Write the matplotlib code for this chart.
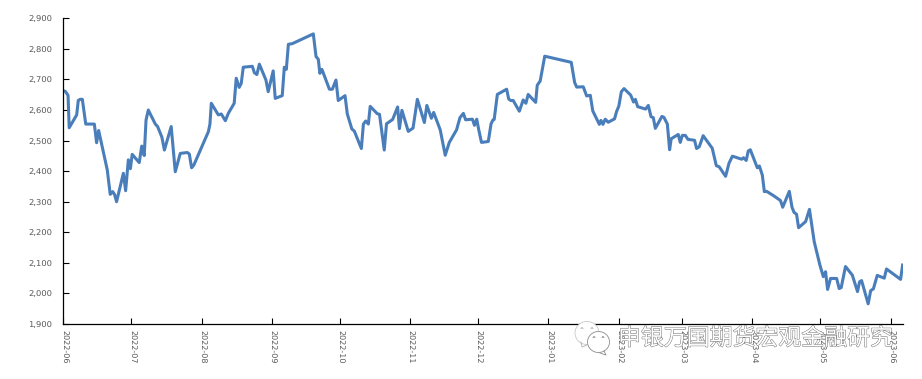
import pandas as pd
import matplotlib
matplotlib.use("Agg")
import matplotlib.pyplot as plt
import matplotlib.patheffects as pe
from matplotlib.patches import Ellipse

plt.rcParams["text.hinting"] = "no_hinting"

# days since 2022-06-01
days = [
    0, 0.9, 2.1, 2.6, 5.9, 6.6, 7.4, 8.4, 9.9, 13.7, 14.7, 15.6, 19.4, 20.7, 21.8, 22.6, 23.5, 26.5, 27.5, 28.7,
    29.6, 30.4, 33.5, 34.6, 35.7, 36.5, 37.5, 40.6, 41.6, 43.5, 44.6, 47.6, 49.4, 51.6, 54.7, 55.6, 56.6, 57.6, 64, 64.7,
    65.3, 68.4, 69.7, 71.5, 72.8, 75.4, 76.3, 77.6, 78.5, 79.4, 83.4, 84.3, 85.4, 86.5, 89.4, 90.4, 92.6, 93.5, 96.6, 97.5,
    98.4, 99.3, 101, 110.3, 111.5, 112.5, 113.2, 114.1, 117.4, 118.7, 120.3, 121.3, 124.3, 125.3, 127.3, 128.4, 131.5, 132.4, 133.4, 134.6,
    135.4, 138.5, 139.5, 141.6, 142.6, 145.3, 147.5, 148.3, 149.4, 152.2, 154.3, 156.2, 159.3, 160.4, 162.4, 163.4, 166.3, 168.5, 170.3, 173.5,
    175, 176.5, 177.5, 180.5, 181.4, 182.4, 183.3, 184.5, 187.5, 188.7, 189.5, 190.1, 191.5, 195.6, 196.5, 197.4, 198.5, 201.2, 202.9, 204.1,
    205.1, 208.4, 209.1, 210.4, 212.4, 224.1, 225.6, 226.5, 229.4, 230.9, 232.5, 233.6, 236.5, 237.2, 238.1, 239.1, 240.4, 243.2, 244.1, 245.1,
    246.2, 247.4, 250.3, 251.6, 252.4, 253.4, 256.9, 258.1, 259.3, 260.3, 261.2, 264.1, 265, 266.5, 267.5, 268.2, 271.3, 272.2, 273.1, 274.4,
    275.6, 278.5, 279.4, 280.6, 282.3, 286.3, 288.1, 289.4, 292.2, 293.7, 295.2, 299.3, 300.1, 301.3, 302.2, 303.1, 306.2, 307.1, 308.4, 309.3,
    310.3, 313.3, 316.4, 317.4, 320.3, 321.5, 322.4, 323.5, 324.4, 327.5, 329.2, 331.3, 333.8, 335.3, 336.3, 337.2, 338.5, 341.2, 342.3, 343.2,
    345.1, 348.1, 350.4, 351.3, 352.2, 355.1, 356.2, 357.4, 359.1, 362.2, 363.2, 369.4, 370.3,
]
values = [
    2663, 2661, 2648, 2542, 2584, 2631, 2635, 2635, 2554, 2554, 2493, 2533, 2404, 2324, 2333, 2324, 2300, 2393, 2336, 2437,
    2408, 2455, 2428, 2482, 2451, 2567, 2600, 2554, 2546, 2511, 2469, 2546, 2398, 2458, 2461, 2456, 2411, 2420, 2529, 2554,
    2622, 2584, 2587, 2565, 2589, 2622, 2704, 2674, 2687, 2740, 2743, 2722, 2716, 2750, 2698, 2660, 2728, 2638, 2647, 2740,
    2733, 2815, 2817, 2849, 2775, 2766, 2720, 2733, 2668, 2668, 2698, 2631, 2647, 2587, 2538, 2531, 2474, 2554, 2564, 2554,
    2612, 2588, 2586, 2469, 2555, 2569, 2610, 2539, 2599, 2530, 2541, 2635, 2559, 2615, 2573, 2592, 2535, 2452, 2494, 2535,
    2575, 2589, 2568, 2570, 2550, 2570, 2535, 2494, 2497, 2554, 2567, 2569, 2651, 2668, 2636, 2631, 2631, 2596, 2633, 2622,
    2651, 2625, 2681, 2695, 2776, 2756, 2690, 2675, 2676, 2646, 2648, 2597, 2553, 2566, 2553, 2570, 2560, 2571, 2595, 2613,
    2660, 2670, 2649, 2626, 2635, 2611, 2603, 2615, 2578, 2575, 2540, 2579, 2576, 2554, 2470, 2506, 2520, 2494, 2517, 2517,
    2504, 2501, 2474, 2480, 2516, 2475, 2418, 2414, 2383, 2426, 2449, 2439, 2444, 2435, 2466, 2470, 2411, 2417, 2387, 2333,
    2334, 2320, 2304, 2282, 2334, 2282, 2265, 2259, 2215, 2235, 2275, 2169, 2093, 2055, 2071, 2013, 2049, 2049, 2016, 2019,
    2088, 2060, 2006, 2038, 2042, 1966, 2009, 2015, 2059, 2050, 2080, 2046, 2093,
]
y_ticks = list(range(1900, 3000, 100))
start = pd.Timestamp("2022-06-01")
dates = start + pd.to_timedelta(days, unit="D")
x_ticks = pd.date_range("2022-06-01", "2023-06-01", freq="MS")
x_labels = [d.strftime("%Y-%m") for d in x_ticks]
watermark = "申银万国期货宏观金融研究"

W, H = 922, 379
fig = plt.figure(figsize=(W / 100, H / 100), dpi=100)
ax = fig.add_axes([63.3 / W, 1 - 324 / H, 840 / W, 305.7 / H])

ax.plot(dates, values, color="#4a7ebb", linewidth=2.2, solid_joinstyle="round")
ax.set_xlim(start, start + pd.Timedelta(days=370.6))
ax.set_ylim(1900, 2900)

ax.set_yticks(y_ticks)
ax.set_yticklabels([f"{v:,}" for v in y_ticks], fontsize=6, color="#595959")
ax.set_xticks(x_ticks)
ax.set_xticklabels(x_labels, rotation=270, fontsize=5.8, color="#595959", ha="center", va="top")
ax.tick_params(axis="both", direction="in", length=4, width=0.8, color="black")
ax.tick_params(axis="y", pad=8)
ax.tick_params(axis="x", pad=4)
ax.spines["top"].set_visible(False)
ax.spines["right"].set_visible(False)
ax.spines["left"].set_linewidth(0.9)
ax.spines["bottom"].set_linewidth(0.9)

# overlay in pixel coordinates for the wechat watermark
ov = fig.add_axes([0, 0, 1, 1], facecolor="none")
ov.set_xlim(0, W)
ov.set_ylim(H, 0)
ov.axis("off")

ov.add_patch(Ellipse((587, 333), 24, 23, facecolor="white", edgecolor="#c8c8c8", linewidth=0.6))
ov.add_patch(Ellipse((598.5, 342), 22, 21, facecolor="white", edgecolor="#8c8c8c", linewidth=0.6))
ov.plot([581, 582, 587], [342, 347, 345], color="#b0b0b0", linewidth=0.6)
ov.plot([604, 606, 600], [351, 355, 353], color="#8c8c8c", linewidth=0.6)
for ex, ey, c in [(582, 328, "#999999"), (592, 328, "#999999"), (594, 337, "#666666"), (603, 337, "#666666")]:
    ov.plot([ex - 1, ex, ex + 1], [ey + 0.6, ey - 0.6, ey + 0.6], color=c, linewidth=0.5)

ov.text(755.5, 338.5, watermark, fontsize=16.5, family=["Noto Sans CJK SC", "DejaVu Sans"],
        color="white", ha="center", va="center",
        path_effects=[pe.withStroke(linewidth=0.7, foreground="#757575")])

fig.savefig("out.png", dpi=100)
